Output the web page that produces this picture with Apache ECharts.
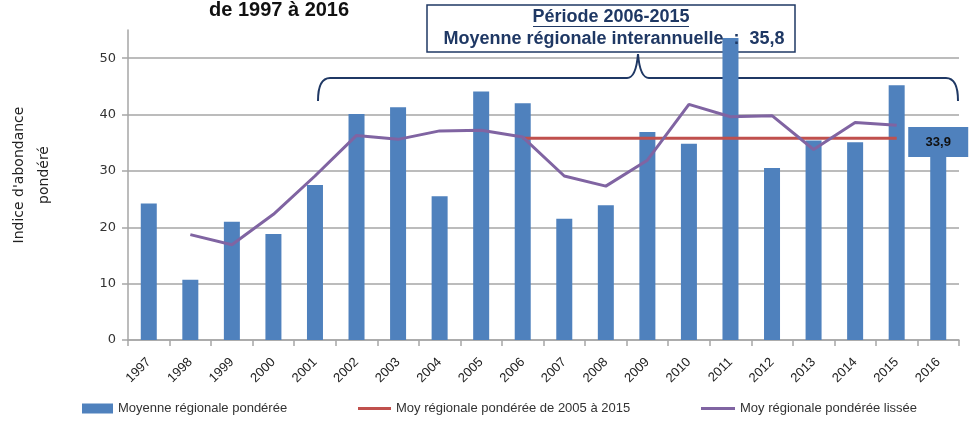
<!DOCTYPE html>
<html>
<head>
<meta charset="utf-8">
<script src="https://cdn.jsdelivr.net/npm/echarts@6/dist/echarts.min.js"></script>
<style>
  html, body { margin: 0; padding: 0; background: #fff; }
  #chart { width: 970px; height: 423px; }
</style>
</head>
<body>
<div id="chart"></div>
<script>
// data
const years = ["1997", "1998", "1999", "2000", "2001", "2002", "2003", "2004", "2005", "2006",
  "2007", "2008", "2009", "2010", "2011", "2012", "2013", "2014", "2015", "2016"];
const moyenne = [24.2, 10.7, 21.0, 18.8, 27.5, 40.1, 41.3, 25.5, 44.1, 42.0,
  21.5, 23.9, 36.9, 34.8, 53.6, 30.5, 35.4, 35.1, 45.2, 33.9];
const moyPeriode = [null, null, null, null, null, null, null, null, null, 35.8,
  35.8, 35.8, 35.8, 35.8, 35.8, 35.8, 35.8, 35.8, 35.8, null];
const moyLissee = [null, 18.7, 16.9, 22.3, 29.1, 36.3, 35.6, 37.1, 37.2, 36.0,
  29.1, 27.3, 31.9, 41.8, 39.6, 39.8, 33.8, 38.6, 38.1, null];

const NAVY = "#1f3864";
const BLUE = "#4f81bd";
const RED = "#c0504d";
const PURPLE = "#8064a2";
const GRID = "#a6a6a6";
const SANS = "'Liberation Sans', sans-serif";
const WIDE = "'DejaVu Sans', sans-serif";

const chart = echarts.init(document.getElementById("chart"), null, { renderer: "canvas" });

const barData = moyenne.map((v, i) => {
  if (i !== moyenne.length - 1) return v;
  return {
    value: v,
    label: {
      show: true,
      position: "top",
      distance: -8,
      formatter: (p) => String(p.value).replace(".", ","),
      backgroundColor: BLUE,
      width: 60,
      height: 30,
      lineHeight: 30,
      align: "center",
      color: "#111",
      fontWeight: "bold",
      fontSize: 13,
      fontFamily: SANS,
    },
  };
});

const legendText = { color: "#333", fontSize: 13, fontFamily: SANS };

const braceStyle = { stroke: NAVY, lineWidth: 2, fill: null };

const option = {
  animation: false,
  title: {
    text: "de 1997 à 2016",
    left: 204,
    top: -5,
    textStyle: { fontSize: 20, fontWeight: "bold", color: "#111", fontFamily: SANS },
  },
  grid: { left: 128, right: 11, top: 30, bottom: 83, containLabel: false, outerBoundsMode: "none" },
  legend: [
    {
      data: [{ name: "Moyenne régionale pondérée", icon: "rect" }],
      left: 82, top: 402, padding: 0, itemWidth: 31, itemHeight: 10, itemGap: 4, textStyle: legendText,
    },
    {
      data: [{ name: "Moy régionale pondérée de 2005 à 2015", icon: "rect" }],
      left: 358, top: 402, padding: 0, itemWidth: 33, itemHeight: 3, itemGap: 2, textStyle: legendText,
    },
    {
      data: [{ name: "Moy régionale pondérée lissée", icon: "rect" }],
      left: 701, top: 402, padding: 0, itemWidth: 34, itemHeight: 3, itemGap: 2, textStyle: legendText,
    },
  ],
  xAxis: {
    type: "category",
    data: years,
    boundaryGap: true,
    axisLine: { lineStyle: { color: GRID, width: 1.5 } },
    axisTick: { show: true, length: 6, alignWithLabel: false, lineStyle: { color: GRID, width: 1.5 } },
    axisLabel: {
      rotate: 45,
      margin: 20,
      interval: 0,
      color: "#222",
      fontSize: 13,
      fontFamily: SANS,
    },
  },
  yAxis: {
    type: "value",
    min: 0,
    max: 55,
    interval: 10,
    name: "Indice d'abondance\npondéré",
    nameLocation: "middle",
    nameGap: 71,
    nameTextStyle: { color: "#222", fontSize: 14, lineHeight: 25, fontFamily: WIDE, padding: [0, 0, 0, 20] },
    axisLine: { show: true, lineStyle: { color: GRID, width: 1.5 } },
    axisTick: { show: true, length: 6, lineStyle: { color: GRID, width: 1.5 } },
    axisLabel: {
      showMaxLabel: false,
      margin: 12,
      color: "#333",
      fontSize: 13,
      fontFamily: WIDE,
    },
    splitLine: {
      show: true,
      lineStyle: { color: [GRID, GRID, GRID, GRID, GRID, GRID, "rgba(0,0,0,0)"], width: 1.5 },
    },
  },
  series: [
    {
      name: "Moyenne régionale pondérée",
      type: "bar",
      data: barData,
      barWidth: 16,
      itemStyle: { color: BLUE },
      z: 3,
    },
    {
      name: "Moy régionale pondérée de 2005 à 2015",
      type: "line",
      data: moyPeriode,
      symbol: "none",
      itemStyle: { color: RED },
      lineStyle: { color: RED, width: 3 },
      z: 4,
    },
    {
      name: "Moy régionale pondérée lissée",
      type: "line",
      data: moyLissee,
      symbol: "none",
      itemStyle: { color: PURPLE },
      lineStyle: { color: PURPLE, width: 3 },
      z: 5,
    },
  ],
  graphic: [
    // brace over the period 2006-2015
    { type: "bezierCurve", z: 1, shape: { x1: 318, y1: 101, cpx1: 318, cpy1: 78, x2: 330, y2: 78 }, style: braceStyle },
    { type: "line", z: 1, shape: { x1: 330, y1: 78, x2: 627, y2: 78 }, style: braceStyle },
    { type: "bezierCurve", z: 1, shape: { x1: 627, y1: 78, cpx1: 636, cpy1: 78, x2: 638, y2: 54 }, style: braceStyle },
    { type: "bezierCurve", z: 1, shape: { x1: 638, y1: 54, cpx1: 640, cpy1: 78, x2: 649, y2: 78 }, style: braceStyle },
    { type: "line", z: 1, shape: { x1: 649, y1: 78, x2: 946, y2: 78 }, style: braceStyle },
    { type: "bezierCurve", z: 1, shape: { x1: 946, y1: 78, cpx1: 958, cpy1: 78, x2: 958, y2: 101 }, style: braceStyle },
    {
      type: "rect",
      z: 1,
      shape: { x: 427, y: 5, width: 368, height: 47 },
      style: { fill: "#fff", stroke: NAVY, lineWidth: 1.5 },
    },
    {
      type: "text",
      z: 100,
      style: {
        text: "Période 2006-2015",
        x: 611, y: 17,
        align: "center", verticalAlign: "middle",
        fill: NAVY, fontSize: 18, fontWeight: "bold",
        fontFamily: SANS,
      },
    },
    {
      type: "line",
      z: 100,
      shape: { x1: 533, y1: 26.5, x2: 689, y2: 26.5 },
      style: { stroke: NAVY, lineWidth: 1.2 },
    },
    {
      type: "text",
      z: 100,
      style: {
        text: "Moyenne régionale interannuelle  :  35,8",
        x: 614, y: 39,
        align: "center", verticalAlign: "middle",
        fill: NAVY, fontSize: 18, fontWeight: "bold",
        fontFamily: SANS,
      },
    },
  ],
};

chart.setOption(option);
</script>
</body>
</html>
